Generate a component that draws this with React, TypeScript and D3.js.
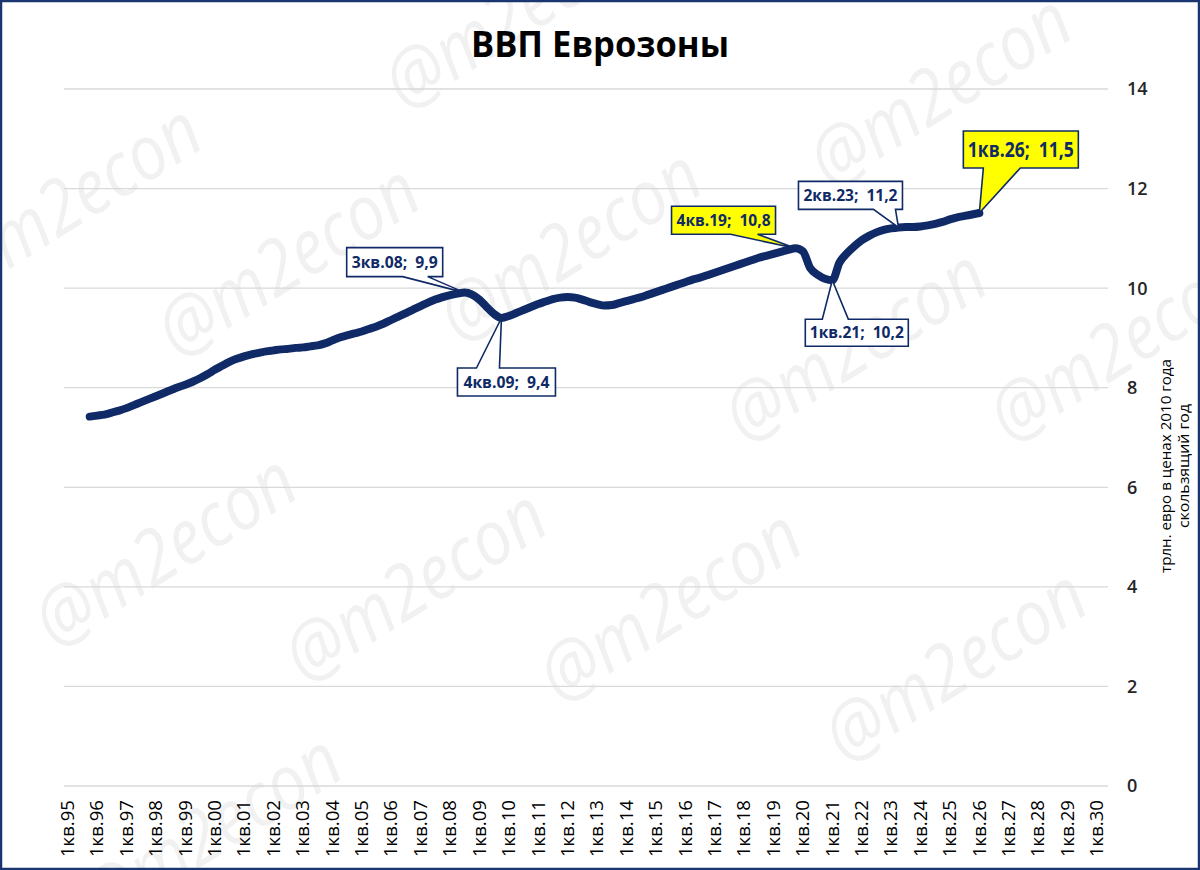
import React from "react";
import * as d3 from "d3";

// ---------- DATA ----------
const tickLabels = [
  "1кв.95","1кв.96","1кв.97","1кв.98","1кв.99","1кв.00","1кв.01","1кв.02","1кв.03","1кв.04",
  "1кв.05","1кв.06","1кв.07","1кв.08","1кв.09","1кв.10","1кв.11","1кв.12","1кв.13","1кв.14",
  "1кв.15","1кв.16","1кв.17","1кв.18","1кв.19","1кв.20","1кв.21","1кв.22","1кв.23","1кв.24",
  "1кв.25","1кв.26","1кв.27","1кв.28","1кв.29","1кв.30",
];
const yTicks = [0, 2, 4, 6, 8, 10, 12, 14];
const seriesStart = "4кв.95";
// GDP, trillion euro (2010 prices), rolling year, quarterly from 4кв.95 to 1кв.26
const gdpValues = [
  7.42,
  7.44, 7.46, 7.50, 7.54,
  7.59, 7.65, 7.71, 7.77,
  7.83, 7.89, 7.95, 8.01,
  8.06, 8.12, 8.19, 8.27,
  8.36, 8.44, 8.52, 8.58,
  8.63, 8.67, 8.70, 8.73,
  8.75, 8.77, 8.78, 8.80,
  8.81, 8.83, 8.85, 8.89,
  8.95, 9.01, 9.05, 9.09,
  9.13, 9.18, 9.23, 9.29,
  9.36, 9.43, 9.50, 9.57,
  9.64, 9.71, 9.77, 9.82,
  9.86, 9.89, 9.91, 9.87,
  9.77, 9.62, 9.48, 9.40,
  9.44, 9.50, 9.56, 9.62,
  9.68, 9.73, 9.78, 9.81,
  9.82, 9.81, 9.77, 9.72,
  9.68, 9.65, 9.66, 9.70,
  9.74, 9.78, 9.82, 9.87,
  9.92, 9.97, 10.02, 10.07,
  10.12, 10.17, 10.21, 10.26,
  10.31, 10.36, 10.41, 10.46,
  10.51, 10.56, 10.61, 10.65,
  10.69, 10.73, 10.77, 10.80,
  10.74, 10.40, 10.27, 10.19,
  10.16, 10.52, 10.70, 10.84,
  10.96, 11.05, 11.12, 11.17,
  11.20, 11.22, 11.23, 11.23,
  11.24, 11.26, 11.29, 11.33,
  11.38, 11.42, 11.45, 11.48,
  11.51,
];
const calloutQuarters = ["3кв.08", "4кв.09", "4кв.19", "1кв.21", "2кв.23", "1кв.26"];
const calloutTexts = ["3кв.08;  9,9", "4кв.09;  9,4", "4кв.19;  10,8", "1кв.21;  10,2", "2кв.23;  11,2", "1кв.26;  11,5"];
const titleText = "ВВП Еврозоны";
const axisTitle = ["трлн. евро в ценах 2010 года", "скользящий год"];
const watermarkText = "@m2econ";

// ---------- LAYOUT / STYLE ----------
const W = 1200;
const H = 870;
const NAVY = "#0f2a66";
const FONT = "'Open Sans', 'Noto Sans', sans-serif";
const plot = { left: 64, right: 1108, top: 89, bottom: 786 };

// callout box offsets relative to the data point
const calloutLayout = [
  { box: [-118, -45, -22, -16], wedge: [-62, -37], side: "bottom", fill: "#ffffff", fs: 16, tl: 86 },
  { box: [-44, 50, 54, 78], wedge: [-25, -2], side: "top", fill: "#ffffff", fs: 16, tl: 86 },
  { box: [-124, -42, -20, -14], wedge: [-65, -38], side: "bottom", fill: "#ffff00", fs: 16, tl: 94 },
  { box: [-27, 39, 76, 66], wedge: [-10, 16], side: "top", fill: "#ffffff", fs: 16, tl: 94 },
  { box: [-100, -46, 4, -18], wedge: [-25, -3], side: "bottom", fill: "#ffffff", fs: 16, tl: 94 },
  { box: [-16, -82, 99, -45], wedge: [4, 41], side: "bottom", fill: "#ffff00", fs: 21, tl: 106 },
];

const watermarks = [
  [405, 112], [830, 190], [-40, 300], [178, 360], [460, 345], [745, 445],
  [1010, 445], [55, 650], [305, 685], [560, 705], [845, 765], [100, 930],
];

export default function App() {
  React.useEffect(() => {
    document.body.style.margin = "0";
  }, []);

  // categories: every quarter, 1кв.95 ... 2кв.30
  const quarters: string[] = [];
  tickLabels.forEach((t) => {
    const yy = t.slice(-2);
    for (let k = 1; k <= 4; k++) quarters.push(`${k}кв.${yy}`);
  });
  const cats = quarters.slice(0, quarters.indexOf("2кв.30") + 1);

  const x = d3.scalePoint<string>().domain(cats).range([plot.left, plot.right]).padding(0.5);
  const y = d3.scaleLinear().domain([0, 14]).range([plot.bottom, plot.top]);

  const startIdx = cats.indexOf(seriesStart);
  const series = gdpValues.map((v, i) => ({ q: cats[startIdx + i], v }));
  const valueOf = new Map(series.map((d) => [d.q, d.v]));

  const lineGen = d3
    .line<{ q: string; v: number }>()
    .x((d) => x(d.q) as number)
    .y((d) => y(d.v))
    .curve(d3.curveMonotoneX);

  return (
    <svg width={W} height={H} style={{ position: "absolute", left: 0, top: 0, display: "block" }} fontFamily={FONT}>
      <rect x={0} y={0} width={W} height={H} fill="#ffffff" />

      {/* watermarks */}
      {watermarks.map(([wx, wy], i) => (
        <text
          key={"wm" + i}
          transform={`translate(${wx},${wy}) rotate(-32)`}
          fontSize={76}
          fontStyle="italic"
          fill="#f1f1f1"
          textLength={292}
          lengthAdjust="spacingAndGlyphs"
        >
          {watermarkText}
        </text>
      ))}

      {/* gridlines */}
      {yTicks.map((t) => (
        <line key={"g" + t} x1={plot.left} x2={plot.right} y1={y(t)} y2={y(t)} stroke="#d9d9d9" strokeWidth={1.3} />
      ))}

      {/* y tick labels (right) */}
      {yTicks.map((t) => (
        <text key={"yl" + t} x={1127} y={y(t)} dy="0.36em" fontSize={18} fontWeight={600} fill="#262626">
          {t}
        </text>
      ))}

      {/* y axis title */}
      <g transform={`translate(1166,466) rotate(-90)`}>
        <text x={0} y={0} textAnchor="middle" dy="0.35em" fontSize={15} fill="#000" textLength={214} lengthAdjust="spacingAndGlyphs">
          {axisTitle[0]}
        </text>
        <text x={0} y={18} textAnchor="middle" dy="0.35em" fontSize={15} fill="#000" textLength={124} lengthAdjust="spacingAndGlyphs">
          {axisTitle[1]}
        </text>
      </g>

      {/* x tick labels */}
      {tickLabels.map((t) => (
        <text
          key={"xl" + t}
          transform={`translate(${x(t)},800) rotate(-90)`}
          textAnchor="end"
          dy="0.35em"
          fontSize={18}
          fill="#000"
          textLength={57}
          lengthAdjust="spacingAndGlyphs"
        >
          {t}
        </text>
      ))}

      {/* title */}
      <text x={600} y={57} textAnchor="middle" fontSize={35} fontWeight={700} fill="#000" textLength={258} lengthAdjust="spacingAndGlyphs">
        {titleText}
      </text>

      {/* line */}
      <path d={lineGen(series) || ""} fill="none" stroke={NAVY} strokeWidth={8} strokeLinejoin="round" strokeLinecap="round" />

      {/* callouts */}
      {calloutQuarters.map((q, i) => {
        const L = calloutLayout[i];
        const px = x(q) as number;
        const py = y(valueOf.get(q) as number);
        const [bx0, by0, bx1, by1] = L.box;
        const x0 = px + bx0, y0 = py + by0, x1 = px + bx1, y1 = py + by1;
        const wa = px + L.wedge[0], wb = px + L.wedge[1];
        const d =
          L.side === "bottom"
            ? `M${x0},${y0}H${x1}V${y1}H${wb}L${px},${py}L${wa},${y1}H${x0}Z`
            : `M${x0},${y0}H${wa}L${px},${py}L${wb},${y0}H${x1}V${y1}H${x0}Z`;
        return (
          <g key={"c" + i}>
            <path d={d} fill={L.fill} stroke={NAVY} strokeWidth={1.6} strokeLinejoin="miter" />
            <text
              x={(x0 + x1) / 2}
              y={(y0 + y1) / 2}
              dy="0.36em"
              textAnchor="middle"
              fontSize={L.fs}
              fontWeight={700}
              fill={NAVY}
              textLength={L.tl}
              lengthAdjust="spacingAndGlyphs"
              style={{ whiteSpace: "pre" }}
            >
              {calloutTexts[i]}
            </text>
          </g>
        );
      })}

      {/* outer border */}
      <rect x={1} y={1} width={W - 2} height={H - 2} fill="none" stroke="#1b3570" strokeWidth={2.5} />
    </svg>
  );
}
